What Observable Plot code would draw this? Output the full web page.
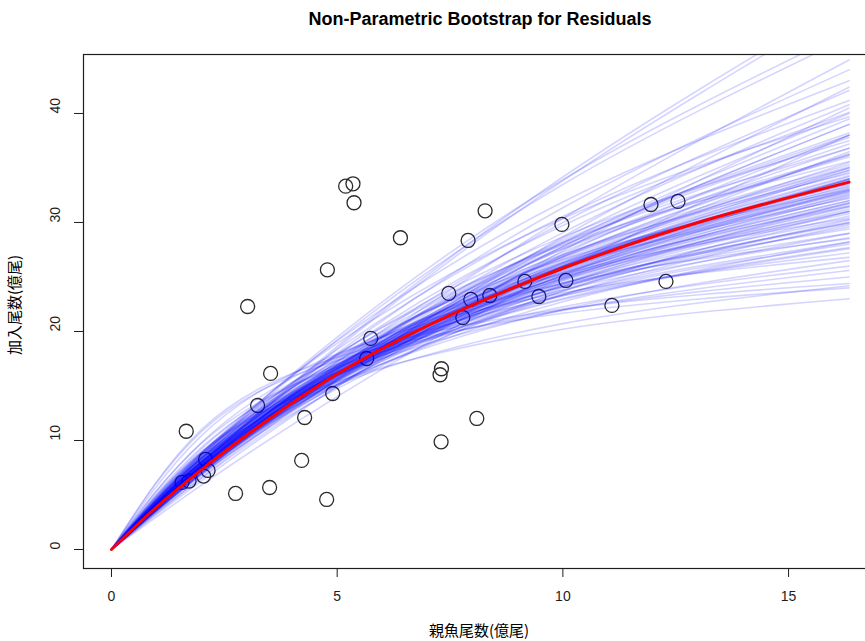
<!DOCTYPE html>
<html><head><meta charset="utf-8">
<script src="https://cdn.jsdelivr.net/npm/d3@7"></script>
<script src="https://cdn.jsdelivr.net/npm/@observablehq/plot@0.6"></script>
<style>
html,body{margin:0;padding:0;background:#fff;overflow:hidden;}
#chart{position:relative;width:865px;height:641px;overflow:hidden;}
#chart svg{max-width:none !important;}
</style></head><body><div id="chart"></div>
<script>
// Observed stock-recruitment points (spawners, recruits; 億尾)
const spawnerS = [1.656, 3.016, 3.525, 3.237, 4.279, 4.213, 3.503, 2.749, 4.783, 4.900,
  4.767, 5.188, 5.350, 5.373, 5.743, 5.654, 6.401, 7.310, 7.279, 7.302,
  7.472, 7.783, 7.900, 7.960, 8.093, 8.277, 8.381, 9.157, 9.468, 9.978,
  10.067, 11.086, 11.951, 12.284, 12.550, 1.563, 1.718, 2.084, 2.140, 2.040];
const recruitR = [10.85, 22.29, 16.15, 13.21, 12.11, 8.17, 5.69, 5.14, 25.66, 14.31,
  4.59, 33.33, 33.55, 31.81, 19.36, 17.52, 28.60, 16.58, 16.03, 9.88,
  23.49, 21.28, 28.35, 22.94, 12.02, 31.07, 23.30, 24.59, 23.21, 29.82,
  24.68, 22.39, 31.65, 24.59, 31.93, 6.15, 6.28, 8.26, 7.25, 6.74];

// Bootstrap curves: recruits read at spawner knots 0, 2, 5, 10, 16.34
const bootKnots = [0, 2, 5, 10, 16.34];
const bootAt2 = [7.89, 7.01, 6.32, 6.62, 8.56, 7.57, 7.01, 6.56, 8.45, 8.11,
  7.72, 7.34, 7.04, 8.33, 8.87, 8.38, 8.04, 7.84, 7.64, 7.42,
  7.24, 6.93, 7.57, 8.22, 8.67, 8.40, 8.16, 7.96, 7.79, 7.65,
  7.45, 7.26, 7.35, 7.72, 8.87, 8.46, 8.06, 7.79, 7.58, 8.65,
  9.23, 8.92, 8.50, 8.41, 8.04, 8.80, 9.83, 9.39, 8.97, 8.83,
  8.35, 10.47, 9.77, 8.98, 11.02, 10.84, 7.81, 5.93, 7.91, 8.69,
  7.18, 7.44, 7.64, 6.87, 7.53, 7.73, 7.37, 7.89, 7.60, 7.28,
  7.87, 7.74, 8.06, 7.55, 8.01, 8.14, 7.95, 8.33, 7.10, 6.83,
  7.34, 8.38, 8.68, 8.09, 7.10,
  7.46, 7.66, 7.82, 7.35, 7.57, 7.77, 7.91, 7.67, 8.11, 7.79,
  7.60, 7.32, 7.52, 7.08, 7.68, 8.28, 8.03, 8.06, 7.01, 7.19,
  8.56, 7.51, 7.60, 7.99, 8.18];
const bootAt5 = [18.64, 16.57, 14.95, 15.65, 19.49, 17.24, 15.97, 14.94, 19.24, 17.84,
  16.99, 16.15, 15.48, 18.33, 18.91, 17.86, 17.14, 16.72, 16.29, 15.81,
  15.43, 14.76, 16.14, 17.52, 17.95, 17.40, 16.89, 16.49, 16.14, 15.83,
  15.43, 15.03, 15.23, 15.99, 17.73, 16.92, 16.12, 15.58, 15.15, 17.30,
  17.61, 17.03, 16.22, 16.05, 15.35, 16.80, 17.81, 17.00, 16.25, 16.00,
  15.12, 17.94, 16.74, 15.40, 17.63, 17.34, 18.46, 14.03, 18.01, 19.13,
  15.79, 16.37, 16.81, 15.12, 16.05, 16.48, 15.71, 16.81, 16.19, 15.52,
  16.29, 16.04, 16.69, 15.63, 16.59, 16.28, 15.90, 16.66, 16.17, 15.56,
  16.70, 15.99, 16.57, 17.24, 15.14,
  15.91, 16.33, 16.67, 15.67, 16.14, 16.57, 16.39, 15.89, 16.79, 16.14,
  15.73, 16.10, 16.55, 15.57, 16.90, 16.55, 16.07, 16.12, 15.97, 16.38,
  16.34, 16.00, 16.19, 16.54, 16.94];
const bootAt10 = [34.17, 30.38, 27.41, 28.69, 33.92, 30.00, 27.79, 26.01, 33.49, 29.73,
  28.32, 26.91, 25.80, 30.54, 30.37, 28.68, 27.54, 26.85, 26.16, 25.39,
  24.78, 23.71, 25.93, 28.15, 27.93, 27.06, 26.28, 25.65, 25.10, 24.63,
  24.00, 23.38, 23.69, 24.87, 26.60, 25.39, 24.18, 23.37, 22.73, 25.95,
  25.27, 24.44, 23.28, 23.03, 22.03, 24.11, 24.40, 23.29, 22.26, 21.92,
  20.72, 23.55, 21.97, 20.21, 22.03, 21.67, 33.84, 25.71, 31.35, 31.88,
  26.32, 27.28, 28.02, 25.20, 25.78, 26.46, 25.24, 27.00, 26.01, 24.93,
  25.34, 24.94, 25.96, 24.32, 25.81, 24.42, 23.86, 24.99, 28.15, 27.08,
  29.07, 22.94, 23.78, 27.69, 24.32,
  25.55, 26.24, 26.77, 25.16, 25.93, 26.62, 25.49, 24.71, 26.12, 25.10,
  24.47, 26.84, 27.58, 25.95, 28.17, 24.82, 24.10, 24.18, 27.79, 28.50,
  23.44, 25.70, 26.01, 25.73, 26.36];
const bootAtEnd = [50.5, 44.9, 40.5, 42.4, 47.6, 42.1, 39.0, 36.5, 47.0, 40.1,
  38.2, 36.3, 34.8, 41.2, 39.7, 37.5, 36.0, 35.1, 34.2, 33.2,
  32.4, 31.0, 33.9, 36.8, 35.6, 34.5, 33.5, 32.7, 32.0, 31.4,
  30.6, 29.8, 30.2, 31.7, 33.0, 31.5, 30.0, 29.0, 28.2, 32.2,
  30.4, 29.4, 28.0, 27.7, 26.5, 29.0, 28.5, 27.2, 26.0, 25.6,
  24.2, 26.8, 25.0, 23.0, 24.4, 24.0, 50.0, 38.0, 44.0, 43.0,
  35.5, 36.8, 37.8, 34.0, 33.7, 34.6, 33.0, 35.3, 34.0, 32.6,
  32.3, 31.8, 33.1, 31.0, 32.9, 30.3, 29.6, 31.0, 39.5, 38.0,
  40.8, 27.6, 28.6, 36.2, 31.8,
  33.4, 34.3, 35.0, 32.9, 33.9, 34.8, 32.5, 31.5, 33.3, 32.0,
  31.2, 36.2, 37.2, 35.0, 38.0, 30.8, 29.9, 30.0, 39.0, 40.0,
  28.2, 33.6, 34.0, 32.8, 33.6];

// Fitted curve (red)
const fitS = [0, 1, 2, 3, 5, 7.5, 10, 13, 16.34];
const fitR = [0, 3.9, 7.35, 10.5, 16.1, 21.5, 25.8, 30.0, 33.7];

const xTicks = [0, 5, 10, 15];
const yTicks = [0, 10, 20, 30, 40];
const titleText = "Non-Parametric Bootstrap for Residuals";
const xTitle = "親魚尾数(億尾)";
const yTitle = "加入尾数(億尾)";

const points = spawnerS.map((s, i) => ({s, r: recruitR[i]}));
const bootRows = [];
bootAtEnd.forEach((e, i) => {
  const vals = [0, bootAt2[i], bootAt5[i], bootAt10[i], e];
  bootKnots.forEach((k, j) => bootRows.push({id: i, s: k, r: vals[j]}));
});
const fitRows = fitS.map((s, i) => ({s, r: fitR[i]}));

const ink = "#1e1e1e";
const plot = Plot.plot({
  width: 880, height: 641,
  marginLeft: 83, marginRight: 3, marginTop: 54, marginBottom: 73,
  style: {fontFamily: "'Liberation Sans', Arial, sans-serif", fontSize: "14px", color: ink, background: "#fff", maxWidth: "none"},
  x: {domain: [-0.62, 16.97]},
  y: {domain: [-1.743, 45.41]},
  marks: [
    Plot.dot(points, {x: "s", y: "r", r: 7, stroke: "#2a2a2a", strokeWidth: 1.3, fill: "none"}),
    Plot.line(bootRows, {x: "s", y: "r", z: "id", stroke: "#0000ff", strokeOpacity: 0.17, strokeWidth: 1.6, curve: "natural", clip: true}),
    Plot.line(fitRows, {x: "s", y: "r", stroke: "#ff0000", strokeWidth: 3, curve: "natural"}),
    Plot.frame({stroke: ink, strokeWidth: 1.2}),
    Plot.axisX(xTicks, {tickSize: 9, tickPadding: 14, label: null, stroke: ink, fill: ink}),
    Plot.axisY(yTicks, {tickSize: 9, tickFormat: () => "", label: null, stroke: ink}),
    Plot.text(yTicks, {y: d => d, frameAnchor: "left", dx: -28, rotate: -90, text: d => String(d), fontSize: 14, fill: ink})
  ]
});
plot.style.maxWidth = "none";
plot.style.height = "641px";
plot.style.width = "880px";

const svg = d3.select(plot);
svg.append("text").attr("x", 480).attr("y", 25).attr("text-anchor", "middle")
  .attr("font-family", "'Liberation Sans', Arial, sans-serif").attr("font-weight", "bold")
  .attr("font-size", 18).attr("fill", "#000").text(titleText);
svg.append("text").attr("x", 479).attr("y", 636).attr("text-anchor", "middle")
  .attr("font-family", "'Noto Sans CJK JP', sans-serif").attr("font-size", 15)
  .attr("fill", "#000").text(xTitle);
svg.append("text").attr("transform", "translate(20,305) rotate(-90)").attr("text-anchor", "middle")
  .attr("font-family", "'Noto Sans CJK JP', sans-serif").attr("font-size", 15)
  .attr("fill", "#000").text(yTitle);

document.getElementById("chart").appendChild(plot);
</script></body></html>
